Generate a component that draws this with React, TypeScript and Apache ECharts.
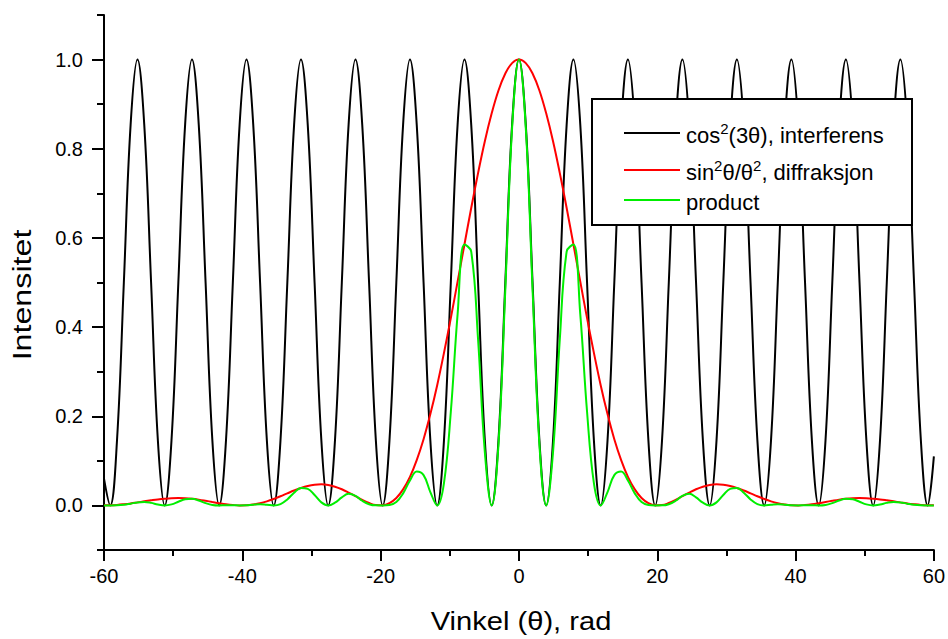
import React, { useEffect, useRef } from "react";
import * as echarts from "echarts";

// x positions (rad)
const xs = [
  -60, -59.1, -58.12, -57.13, -56.15, -55.16, -54.18, -53.19, -52.21, -51.22,
  -50.24, -49.25, -48.27, -47.28, -46.3, -45.31, -44.33, -43.34, -42.36, -41.37,
  -40.39, -39.4, -38.42, -37.43, -36.45, -35.46, -34.48, -33.49, -32.51, -31.52,
  -30.54, -29.55, -28.57, -27.58, -26.6, -25.61, -24.63, -23.64, -22.66, -21.67,
  -20.69, -19.7, -18.72, -17.73, -16.75, -15.76, -14.78, -13.79, -12.81, -11.82,
  -10.84, -9.85, -8.87, -7.88, -6.9, -5.91, -4.93, -3.94, -2.96, -1.97, -0.99,
  0,
  0.99, 1.97, 2.96, 3.94, 4.93, 5.91, 6.9, 7.88, 8.87, 9.85,
  10.84, 11.82, 12.81, 13.79, 14.78, 15.76, 16.75, 17.73, 18.72, 19.7,
  20.69, 21.67, 22.66, 23.64, 24.63, 25.61, 26.6, 27.58, 28.57, 29.55,
  30.54, 31.52, 32.51, 33.49, 34.48, 35.46, 36.45, 37.43, 38.42, 39.4,
  40.39, 41.37, 42.36, 43.34, 44.33, 45.31, 46.3, 47.28, 48.27, 49.25,
  50.24, 51.22, 52.21, 53.19, 54.18, 55.16, 56.15, 57.13, 58.12, 59.1, 60,
];

// cos^2(3θ), interferens
const interferens = [
  0.06, 0, 0.146, 0.5, 0.854, 1, 0.854, 0.5, 0.146, 0,
  0.146, 0.5, 0.854, 1, 0.854, 0.5, 0.146, 0, 0.146, 0.5,
  0.854, 1, 0.854, 0.5, 0.146, 0, 0.146, 0.5, 0.854, 1,
  0.854, 0.5, 0.146, 0, 0.146, 0.5, 0.854, 1, 0.854, 0.5,
  0.146, 0, 0.146, 0.5, 0.854, 1, 0.854, 0.5, 0.146, 0,
  0.146, 0.5, 0.854, 1, 0.854, 0.5, 0.146, 0, 0.146, 0.5, 0.854,
  1,
  0.854, 0.5, 0.146, 0, 0.146, 0.5, 0.854, 1, 0.854, 0.5,
  0.146, 0, 0.146, 0.5, 0.854, 1, 0.854, 0.5, 0.146, 0,
  0.146, 0.5, 0.854, 1, 0.854, 0.5, 0.146, 0, 0.146, 0.5,
  0.854, 1, 0.854, 0.5, 0.146, 0, 0.146, 0.5, 0.854, 1,
  0.854, 0.5, 0.146, 0, 0.146, 0.5, 0.854, 1, 0.854, 0.5,
  0.146, 0, 0.146, 0.5, 0.854, 1, 0.854, 0.5, 0.146, 0, 0.11,
];

// sin^2θ/θ^2, diffraksjon
const diffraksjon = [
  0.0001, 0.0003, 0.0012, 0.0027, 0.0045, 0.0068, 0.0091, 0.0114, 0.0135, 0.0151,
  0.0162, 0.0165, 0.016, 0.0148, 0.0129, 0.0104, 0.0077, 0.005, 0.0026, 0.0009,
  0.0, 0.0003, 0.002, 0.0049, 0.0091, 0.0145, 0.0206, 0.0271, 0.0334, 0.0391,
  0.0436, 0.0464, 0.0472, 0.0457, 0.042, 0.0362, 0.0288, 0.0206, 0.0124, 0.0054,
  0.0009, 0.0003, 0.0051, 0.0166, 0.0359, 0.064, 0.1015, 0.1485, 0.2048, 0.2697,
  0.3421, 0.4202, 0.502, 0.5852, 0.6671, 0.7453, 0.8169, 0.8794, 0.9307, 0.9687, 0.9921,
  1,
  0.9921, 0.9687, 0.9307, 0.8794, 0.8169, 0.7453, 0.6671, 0.5852, 0.502, 0.4202,
  0.3421, 0.2697, 0.2048, 0.1485, 0.1015, 0.064, 0.0359, 0.0166, 0.0051, 0.0003,
  0.0009, 0.0054, 0.0124, 0.0206, 0.0288, 0.0362, 0.042, 0.0457, 0.0472, 0.0464,
  0.0436, 0.0391, 0.0334, 0.0271, 0.0206, 0.0145, 0.0091, 0.0049, 0.002, 0.0003,
  0.0, 0.0009, 0.0026, 0.005, 0.0077, 0.0104, 0.0129, 0.0148, 0.016, 0.0165,
  0.0162, 0.0151, 0.0135, 0.0114, 0.0091, 0.0068, 0.0045, 0.0027, 0.0012, 0.0003, 0.0001,
];

// product
const product = [
  0, 0, 0.0002, 0.0013, 0.0039, 0.0068, 0.0078, 0.0057, 0.002, 0,
  0.0024, 0.0082, 0.0137, 0.0148, 0.011, 0.0052, 0.0011, 0, 0.0004, 0.0004,
  0.0, 0.0003, 0.0017, 0.0025, 0.0013, 0, 0.003, 0.0135, 0.0285, 0.0391,
  0.0372, 0.0232, 0.0069, 0, 0.0062, 0.0181, 0.0262, 0.0215, 0.0105, 0.0027,
  0.0001, 0, 0.0008, 0.0075, 0.027, 0.056, 0.076, 0.068, 0.03, 0,
  0.0501, 0.2101, 0.4285, 0.5852, 0.5694, 0.3727, 0.1196, 0, 0.1363, 0.4844, 0.8468,
  1,
  0.8468, 0.4844, 0.1363, 0, 0.1196, 0.3727, 0.5694, 0.5852, 0.4285, 0.2101,
  0.0501, 0, 0.03, 0.068, 0.076, 0.056, 0.027, 0.0075, 0.0008, 0,
  0.0001, 0.0027, 0.0105, 0.0215, 0.0262, 0.0181, 0.0062, 0, 0.0069, 0.0232,
  0.0372, 0.0391, 0.0285, 0.0135, 0.003, 0, 0.0013, 0.0025, 0.0017, 0.0003,
  0.0, 0.0004, 0.0004, 0, 0.0011, 0.0052, 0.011, 0.0148, 0.0137, 0.0082,
  0.0024, 0, 0.002, 0.0057, 0.0078, 0.0068, 0.0039, 0.0013, 0.0002, 0, 0,
];

const yMajorTicks = [0, 0.2, 0.4, 0.6, 0.8, 1.0];
const yMinorTicks = [-0.1, 0.1, 0.3, 0.5, 0.7, 0.9, 1.1];

const seriesNames = ["cos²(3θ), interferens", "sin²θ/θ², diffraksjon", "product"];
const legendTexts = ["cos{sup|2}(3θ), interferens", "sin{sup|2}θ/θ{sup|2}, diffraksjon", "product"];
const colors = ["#000000", "#ff0000", "#00ee00"];

const FONT = "'Liberation Sans', Arial, Helvetica, sans-serif";

export default function App() {
  const ref = useRef<HTMLDivElement | null>(null);

  useEffect(() => {
    if (!ref.current) return;
    const chart = echarts.init(ref.current, undefined, { renderer: "svg" });
    const seriesData = [interferens, diffraksjon, product];

    const legendRows = [133, 170, 200];
    const legendGraphics: any[] = [
      {
        type: "rect",
        z: 100,
        shape: { x: 592, y: 99, width: 320, height: 126 },
        style: { fill: "#ffffff", stroke: "#000000", lineWidth: 2 },
      },
    ];
    legendRows.forEach((y, i) => {
      legendGraphics.push({
        type: "line",
        z: 101,
        shape: { x1: 624, y1: y, x2: 680, y2: y },
        style: { stroke: colors[i], lineWidth: 2 },
      });
      legendGraphics.push({
        type: "text",
        z: 101,
        x: 686,
        y: y + 2,
        style: {
          text: legendTexts[i],
          font: `22px ${FONT}`,
          fontSize: 22,
          fontFamily: FONT,
          fill: "#000000",
          align: "left",
          verticalAlign: "middle",
          lineHeight: 28,
          rich: {
            sup: { fontSize: 15, fontFamily: FONT, fill: "#000000", verticalAlign: "top", lineHeight: 15 },
          },
        },
      });
    });

    const option: any = {
      animation: false,
      backgroundColor: "#ffffff",
      grid: { left: 104, right: 14, top: 15, bottom: 89, containLabel: false },
      xAxis: {
        type: "value",
        min: -60,
        max: 60,
        interval: 20,
        axisLine: { show: true, onZero: false, lineStyle: { color: "#000", width: 2 } },
        axisTick: { show: true, length: 11, lineStyle: { color: "#000", width: 2 } },
        minorTick: { show: true, splitNumber: 2, length: 6, lineStyle: { color: "#000", width: 2 } },
        axisLabel: { fontSize: 20, color: "#000", margin: 16, fontFamily: FONT },
        splitLine: { show: false },
        minorSplitLine: { show: false },
      },
      yAxis: [
        {
          type: "value",
          min: -0.1,
          max: 1.1,
          position: "left",
          axisLine: { show: true, onZero: false, lineStyle: { color: "#000", width: 2 } },
          axisTick: { show: true, length: 12, customValues: yMajorTicks, lineStyle: { color: "#000", width: 2 } },
          axisLabel: {
            fontSize: 20,
            color: "#000",
            margin: 21,
            fontFamily: FONT,
            customValues: yMajorTicks,
            formatter: (v: number) => v.toFixed(1),
          },
          splitLine: { show: false },
        },
        {
          type: "value",
          min: -0.1,
          max: 1.1,
          position: "left",
          axisLine: { show: false, onZero: false },
          axisTick: { show: true, length: 7, customValues: yMinorTicks, lineStyle: { color: "#000", width: 2 } },
          axisLabel: { show: false },
          splitLine: { show: false },
        },
      ],
      series: seriesNames.map((name, i) => ({
        name,
        type: "line",
        yAxisIndex: 0,
        showSymbol: false,
        symbol: "none",
        smooth: 0.4,
        z: 2 + i,
        lineStyle: { color: colors[i], width: 2 },
        data: xs.map((x, j) => [x, seriesData[i][j]]),
      })),
      graphic: [
        {
          type: "text",
          z: 50,
          x: 22,
          y: 295,
          rotation: Math.PI / 2,
          scaleX: 1.24,
          style: {
            text: "Intensitet",
            font: `26px ${FONT}`,
            fontSize: 26,
            fontFamily: FONT,
            fill: "#000",
            align: "center",
            verticalAlign: "middle",
          },
        },
        {
          type: "text",
          z: 50,
          x: 521,
          y: 621,
          scaleX: 1.12,
          style: {
            text: "Vinkel (θ), rad",
            font: `26px ${FONT}`,
            fontSize: 26,
            fontFamily: FONT,
            fill: "#000",
            align: "center",
            verticalAlign: "middle",
          },
        },
        ...legendGraphics,
      ],
    };

    chart.setOption(option);
    return () => {
      chart.dispose();
    };
  }, []);

  return (
    <div
      ref={ref}
      style={{ position: "fixed", left: 0, top: 0, width: 948, height: 639, background: "#fff" }}
    />
  );
}
